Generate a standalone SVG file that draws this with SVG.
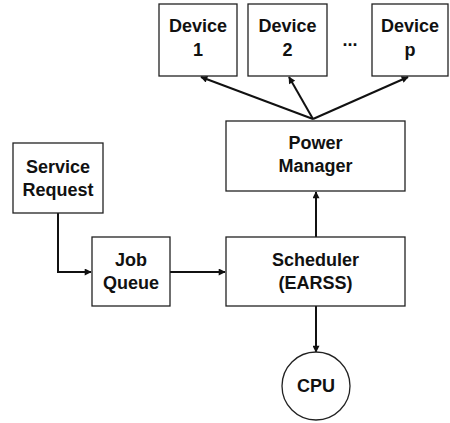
<svg xmlns="http://www.w3.org/2000/svg" width="450" height="423" viewBox="0 0 450 423">
  <style>
    .box { fill: #ffffff; stroke: #222222; stroke-width: 1.3; }
    .lbl { font-family: "Liberation Sans", Arial, sans-serif; font-weight: bold; font-size: 18px; fill: #111111; text-anchor: middle; }
    .wire { fill: none; stroke: #111111; stroke-width: 2; }
  </style>
  <defs>
    <marker id="arrow" viewBox="0 0 10 10" refX="9" refY="5" markerWidth="8" markerHeight="7" orient="auto" markerUnits="userSpaceOnUse">
      <path d="M0,0 L10,5 L0,10 z" fill="#111111"/>
    </marker>
  </defs>
  <rect width="450" height="423" fill="#ffffff"/>

  <g id="connectors">
    <line class="wire" x1="313" y1="119" x2="201" y2="77" marker-end="url(#arrow)"/>
    <line class="wire" x1="313" y1="119" x2="289" y2="77" marker-end="url(#arrow)"/>
    <line class="wire" x1="313" y1="119" x2="408" y2="77" marker-end="url(#arrow)"/>
    <line class="wire" x1="316" y1="237" x2="316" y2="192" marker-end="url(#arrow)"/>
    <line class="wire" x1="316" y1="306" x2="316" y2="352" marker-end="url(#arrow)"/>
    <polyline class="wire" points="58,213 58,272 91,272" marker-end="url(#arrow)"/>
    <line class="wire" x1="170" y1="272" x2="225" y2="272" marker-end="url(#arrow)"/>
  </g>

  <g id="device1">
    <rect class="box" x="159" y="4" width="78" height="72"/>
    <text class="lbl" x="198" y="32">Device</text>
    <text class="lbl" x="198" y="56">1</text>
  </g>
  <g id="device2">
    <rect class="box" x="248" y="4" width="79" height="72"/>
    <text class="lbl" x="287.5" y="32">Device</text>
    <text class="lbl" x="287.5" y="56">2</text>
  </g>
  <text class="lbl" x="350" y="46">...</text>
  <g id="devicep">
    <rect class="box" x="372" y="4" width="76" height="72"/>
    <text class="lbl" x="410" y="32">Device</text>
    <text class="lbl" x="410" y="56">p</text>
  </g>

  <g id="power-manager">
    <rect class="box" x="226" y="121" width="179" height="70"/>
    <text class="lbl" x="315.5" y="149">Power</text>
    <text class="lbl" x="315.5" y="172">Manager</text>
  </g>

  <g id="service-request">
    <rect class="box" x="13" y="143" width="90" height="70"/>
    <text class="lbl" x="58" y="173">Service</text>
    <text class="lbl" x="58" y="196">Request</text>
  </g>

  <g id="job-queue">
    <rect class="box" x="92" y="237" width="78" height="69"/>
    <text class="lbl" x="131" y="266">Job</text>
    <text class="lbl" x="131" y="289">Queue</text>
  </g>

  <g id="scheduler">
    <rect class="box" x="226" y="237" width="179" height="69"/>
    <text class="lbl" x="315.5" y="266">Scheduler</text>
    <text class="lbl" x="315.5" y="289">(EARSS)</text>
  </g>

  <g id="cpu">
    <circle class="box" cx="316" cy="386" r="34"/>
    <text class="lbl" x="316" y="392">CPU</text>
  </g>
</svg>
